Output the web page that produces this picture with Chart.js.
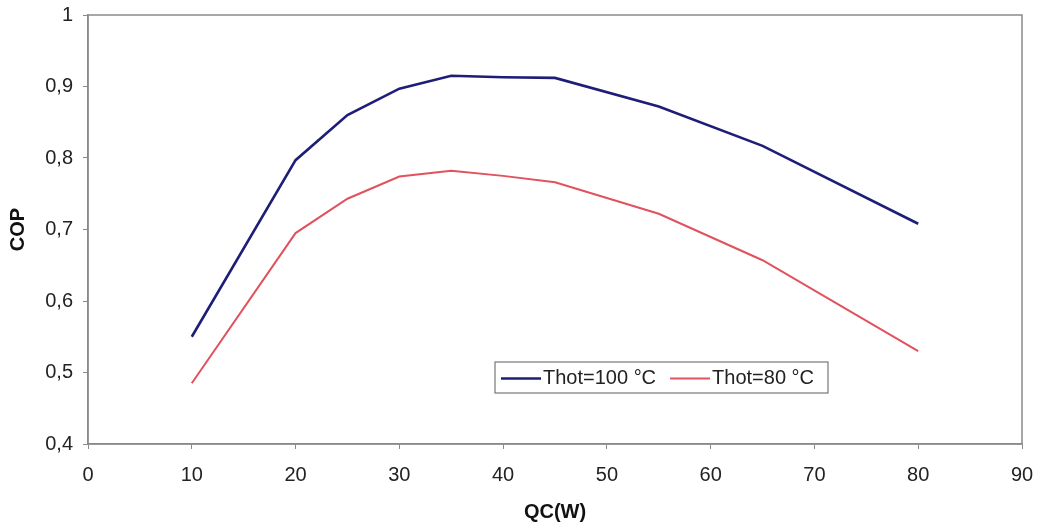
<!DOCTYPE html>
<html>
<head>
<meta charset="utf-8">
<script src="https://cdn.jsdelivr.net/npm/chart.js@4.4.1/dist/chart.umd.min.js"></script>
<style>
  html, body { margin: 0; padding: 0; background: #fff; }
  #wrap { width: 1042px; height: 524px; }
</style>
</head>
<body>
<div id="wrap"><canvas id="copChart" width="1042" height="524"></canvas></div>
<script>
// QC (W) values and COP readings for each hot-side temperature
const qcValues = [10, 20, 25, 30, 35, 40, 45, 55, 65, 80];
const copThot100 = [0.55, 0.797, 0.86, 0.897, 0.915, 0.913, 0.912, 0.872, 0.817, 0.708];
const copThot80 = [0.485, 0.695, 0.743, 0.774, 0.782, 0.775, 0.766, 0.722, 0.657, 0.53];
const seriesLabels = ['Thot=100 °C', 'Thot=80 °C'];
const seriesColors = ['#1e1e78', '#e0525d'];

const toPoints = (ys) => qcValues.map((x, i) => ({ x, y: ys[i] }));

const axisGrey = '#8a8a8a';
const textColor = '#222';
const fontFamily = '"Liberation Sans", Arial, sans-serif';

// Excel style frame around the plot area
const frameBox = {
  id: 'frameBox',
  beforeDatasetsDraw(chart) {
    const { ctx, chartArea: a } = chart;
    ctx.save();
    ctx.strokeStyle = axisGrey;
    ctx.lineWidth = 1.5;
    ctx.strokeRect(a.left, a.top, a.right - a.left, a.bottom - a.top);
    ctx.restore();
  }
};

// legend drawn inside the plot, like the original
const insideLegend = {
  id: 'insideLegend',
  afterDraw(chart) {
    const { ctx } = chart;
    const x0 = 495, y0 = 362, w = 333, h = 31;
    ctx.save();
    ctx.fillStyle = '#fff';
    ctx.fillRect(x0, y0, w, h);
    ctx.strokeStyle = '#777';
    ctx.lineWidth = 1.2;
    ctx.strokeRect(x0, y0, w, h);
    ctx.font = '20px ' + fontFamily;
    ctx.textBaseline = 'middle';
    let x = x0 + 6;
    const cy = y0 + h / 2 + 1;
    chart.data.datasets.forEach((ds) => {
      ctx.strokeStyle = ds.borderColor;
      ctx.lineWidth = ds.borderWidth;
      ctx.beginPath();
      ctx.moveTo(x, cy);
      ctx.lineTo(x + 40, cy);
      ctx.stroke();
      ctx.fillStyle = textColor;
      ctx.fillText(ds.label, x + 42, cy);
      x += 42 + ctx.measureText(ds.label).width + 14;
    });
    ctx.restore();
  }
};

const ctx = document.getElementById('copChart').getContext('2d');
new Chart(ctx, {
  type: 'line',
  data: {
    datasets: [
      {
        label: seriesLabels[0],
        data: toPoints(copThot100),
        borderColor: seriesColors[0],
        borderWidth: 2.6,
        pointRadius: 0,
        tension: 0,
        fill: false
      },
      {
        label: seriesLabels[1],
        data: toPoints(copThot80),
        borderColor: seriesColors[1],
        borderWidth: 2,
        pointRadius: 0,
        tension: 0,
        fill: false
      }
    ]
  },
  options: {
    responsive: false,
    animation: false,
    layout: { padding: { top: 15, right: 20, left: 0, bottom: 0 } },
    plugins: { legend: { display: false }, tooltip: { enabled: false } },
    scales: {
      x: {
        type: 'linear',
        min: 0,
        max: 90,
        ticks: { stepSize: 10, padding: 14, color: textColor, font: { family: fontFamily, size: 20 } },
        grid: { drawOnChartArea: false, drawTicks: true, tickLength: 5, color: axisGrey },
        border: { color: axisGrey, width: 1.5 },
        title: {
          display: true,
          text: 'QC(W)',
          color: '#111',
          font: { family: fontFamily, size: 20, weight: 'bold' },
          padding: { top: 0, bottom: 0 }
        },
        afterFit: (scale) => {
          scale.height = 80;
          scale.paddingLeft = 0;
          scale.paddingRight = 0;
        }
      },
      y: {
        min: 0.4,
        max: 1,
        ticks: {
          stepSize: 0.1,
          padding: 10,
          color: textColor,
          font: { family: fontFamily, size: 20 },
          callback: (v) => {
            const r = Math.round(v * 10) / 10;
            return r === 1 ? '1' : r.toFixed(1).replace('.', ',');
          }
        },
        grid: { drawOnChartArea: false, drawTicks: true, tickLength: 5, color: axisGrey },
        border: { color: axisGrey, width: 1.5 },
        title: {
          display: true,
          text: 'COP',
          color: '#111',
          font: { family: fontFamily, size: 20, weight: 'bold' },
          padding: { top: 6, bottom: 0 }
        },
        afterFit: (scale) => {
          scale.width = 88;
          scale.paddingTop = 0;
          scale.paddingBottom = 0;
        }
      }
    }
  },
  plugins: [frameBox, insideLegend]
});
</script>
</body>
</html>
